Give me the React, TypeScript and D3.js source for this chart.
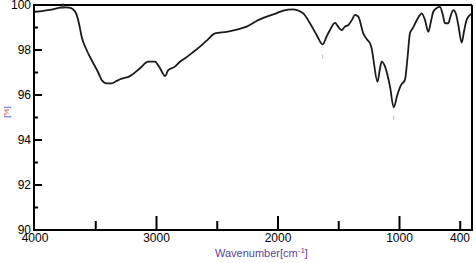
import React from "react";
import * as d3 from "d3";

const wavenumbers = [
  4000, 3930, 3877, 3820, 3770, 3720, 3690, 3657, 3635, 3616, 3575, 3520, 3480, 3451, 3410, 3369, 3330, 3300,
  3218, 3136, 3067, 3012, 2990, 2971, 2930, 2903, 2848, 2807, 2779, 2700, 2642, 2580, 2519, 2422, 2330, 2258,
  2180, 2093, 2020, 1956, 1874, 1820, 1792, 1737, 1682, 1632, 1600, 1572, 1531, 1495, 1476, 1449, 1421, 1390,
  1366, 1339, 1298, 1265, 1243, 1229, 1216, 1181, 1160, 1147, 1119, 1078, 1048, 1018, 988, 955, 935, 914, 892,
  860, 831, 817, 790, 763, 740, 722, 690, 667, 645, 626, 598, 580, 557, 535, 516, 488, 470, 450, 430, 400,
];
const transmittance = [
  99.7, 99.74, 99.78, 99.85, 99.9, 99.88, 99.82, 99.56, 99.1, 98.59, 98.0, 97.41, 97.0, 96.67, 96.52, 96.52, 96.62, 96.7,
  96.84, 97.19, 97.48, 97.48, 97.35, 97.19, 96.84, 97.11, 97.26, 97.48, 97.58, 97.9, 98.15, 98.45, 98.74, 98.81, 98.92, 99.04,
  99.28, 99.48, 99.62, 99.75, 99.81, 99.72, 99.63, 99.19, 98.67, 98.25, 98.6, 98.89, 99.21, 98.96, 98.89, 99.04, 99.11, 99.35,
  99.56, 99.48, 98.74, 98.45, 98.3, 98.07, 97.63, 96.59, 97.2, 97.48, 97.26, 96.37, 95.45, 96.0, 96.44, 96.67, 97.6, 98.74, 98.96,
  99.3, 99.56, 99.63, 99.33, 98.81, 99.3, 99.7, 99.88, 99.92, 99.6, 99.19, 99.19, 99.5, 99.77, 99.6, 99.11, 98.33, 98.8, 99.3, 99.5, 99.63,
];
const yTickValues = [90, 92, 94, 96, 98, 100];
const yMinorTicks = [91, 93, 95, 97, 99];
const xMajorTicks = [4000, 3000, 2000, 1000];
const xMinorTicks = [3500, 2500, 1500, 500];
const xLabels = ["4000", "3000", "2000", "1000"];
const xEndLabel = "400";

const W = 476;
const H = 263;
const L = 34;
const R = 472;
const T = 5;
const B = 230;

export default function App() {
  const x = d3.scaleLinear().domain([4000, 400]).range([L + 1, R + 0.4]);
  const y = d3.scaleLinear().domain([90, 100]).range([B, T]);
  const pts = wavenumbers.map((w, i) => [w, transmittance[i]] as [number, number]);
  const line = d3
    .line<[number, number]>()
    .x((d) => x(d[0]))
    .y((d) => y(d[1]))
    .curve(d3.curveMonotoneX);
  const font = "'Liberation Sans', Arial, sans-serif";
  return (
    <svg
      width={W}
      height={H}
      style={{ position: "absolute", left: 0, top: 0, background: "#fff" }}
      fontFamily={font}
    >
      <path d={line(pts) || ""} fill="none" stroke="#1a1a1a" strokeWidth={1.8} strokeLinejoin="round" />
      {/* frame */}
      <line x1={L} x2={R} y1={T} y2={T} stroke="#000" strokeWidth={2} />
      <line x1={R} x2={R} y1={T} y2={B} stroke="#000" strokeWidth={2} />
      <line x1={L} x2={L} y1={T - 1} y2={B + 1} stroke="#000" strokeWidth={2} />
      <line x1={L} x2={R + 1} y1={B} y2={B} stroke="#000" strokeWidth={2} />
      {/* peak markers */}
      <line x1={x(3770)} x2={x(3770)} y1={T - 2} y2={T + 4} stroke="#555" strokeWidth={1} />
      <line x1={x(1632)} x2={x(1632)} y1={y(97.8)} y2={y(97.6)} stroke="#bbb" strokeWidth={1} />
      <line x1={x(1048)} x2={x(1048)} y1={y(95.1)} y2={y(94.9)} stroke="#bbb" strokeWidth={1} />
      {/* y ticks */}
      {yTickValues.map((v) => (
        <g key={"y" + v}>
          <line x1={L} x2={L + 8} y1={y(v)} y2={y(v)} stroke="#000" strokeWidth={2} />
          <text x={L - 3} y={y(v)} textAnchor="end" dominantBaseline="central" fontSize={12} fill="#000">
            {v}
          </text>
        </g>
      ))}
      {yMinorTicks.map((v) => (
        <line key={"ym" + v} x1={L} x2={L + 4} y1={y(v)} y2={y(v)} stroke="#000" strokeWidth={2} />
      ))}
      {/* x ticks */}
      {xMajorTicks.map((v, i) => (
        <g key={"x" + v}>
          {i > 0 && <line x1={x(v)} x2={x(v)} y1={B} y2={B - 14} stroke="#000" strokeWidth={2} />}
          <text x={x(v)} y={242} textAnchor="middle" fontSize={12} fill="#000">
            {xLabels[i]}
          </text>
        </g>
      ))}
      {xMinorTicks.map((v) => (
        <line key={"xm" + v} x1={x(v)} x2={x(v)} y1={B} y2={B - 9} stroke="#000" strokeWidth={2} />
      ))}
      <text x={470} y={242} textAnchor="end" fontSize={12} fill="#000">
        {xEndLabel}
      </text>
      {/* axis titles */}
      <text x={215} y={257} fontSize={11} fill="#5a3fa0">
        Wavenumber[cm
        <tspan dy={-4} fontSize={8}>
          -1
        </tspan>
        <tspan dy={4}>]</tspan>
      </text>
      <text transform={`translate(9,112) rotate(-90)`} textAnchor="middle" fontSize={8} fill="#3050c0">
        [<tspan fill="#c06020">%</tspan>]
      </text>
    </svg>
  );
}
